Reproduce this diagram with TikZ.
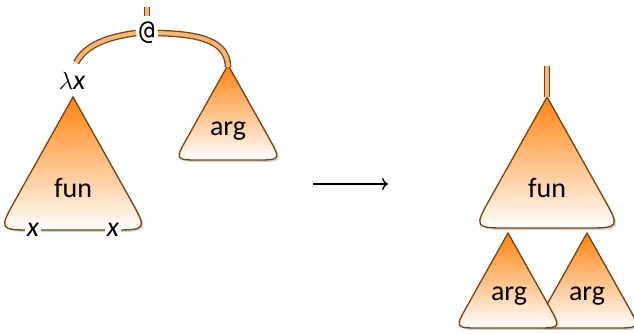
\documentclass[tikz,border=0pt]{standalone}
\usepackage{fontspec}
\setmainfont{Carlito}
\newfontfamily\atfont{DejaVu Sans Mono}
\usetikzlibrary{shadows,arrows.meta,calc}
\definecolor{treeedge}{HTML}{7A420A}
\definecolor{treetop}{HTML}{FF8410}
\definecolor{wirefill}{HTML}{F6B677}
\tikzset{
  treefill/.style={draw=treeedge, line width=1.3pt, top color=treetop, bottom color=white,
    drop shadow={opacity=0.35, shadow xshift=2pt, shadow yshift=-2pt}},
  wire/.style={draw=treeedge, double=wirefill, double distance=4pt, line width=1.3pt},
  lbl/.style={font=\fontsize{28}{30}\selectfont, inner sep=1pt, anchor=base},
  varlbl/.style={lbl, fill=white, inner sep=2pt},
}
% triangle with a sharp apex and rounded base corners:
% apex name, apex x, apex y, height, length cut off at each base corner
\newcommand\treetri[5]{%
  \coordinate (#1) at (#2,#3);
  \coordinate (#1-bl) at ($(#1)+({-0.56*#4},#4)$);
  \coordinate (#1-br) at ($(#1)+({0.56*#4},#4)$);
  \path[treefill] (#1) -- ($(#1-bl)!#5pt!(#1)$)
    .. controls (#1-bl) .. ($(#1-bl)!#5pt!(#1-br)$)
    -- ($(#1-br)!#5pt!(#1-bl)$)
    .. controls (#1-br) .. ($(#1-br)!#5pt!(#1)$) -- cycle;
}
\begin{document}
\begin{tikzpicture}[x=1pt,y=-1pt]
\useasboundingbox (0,0) rectangle (634,333);

% ---- redex: (\x. fun) arg ----
\treetri{funL}{73}{97}{133}{36}
\node[lbl] (funLlbl) at (73,197) {fun};
\node[varlbl] (xa) at (33,236) {\itshape x};
\node[varlbl] (xb) at (113,236) {\itshape x};
\node[lbl] (lam) at (72,89) {$\lambda$\itshape x};

\treetri{argL}{228}{65}{95}{26}
\node[lbl] (argLlbl) at (228,135) {arg};

\node[font=\atfont\fontsize{26}{28}\selectfont, inner sep=3pt] (app) at (147,33) {@};
\coordinate (apptop) at (147,7);
\coordinate (appstub) at (147,16);
\draw[wire] (apptop) -- (appstub);
\draw[wire, shorten <=9pt] (lam.north) to[out=62,in=188] (app.west);
\draw[wire] (app.east) to[out=-2,in=90] ([yshift=-2pt]argL);

% ---- rewrite arrow ----
\coordinate (arrL) at (313,184);
\coordinate (arrR) at (388,184);
\draw[line width=1.3pt, -{To[length=6pt,width=12pt]}] (arrL) -- (arrR);

% ---- result: fun with arg substituted ----
\treetri{argR2}{587}{233}{95}{26}
\node[lbl] (argR2lbl) at (587,300) {arg};
\treetri{argR1}{508}{233}{95}{26}
\node[lbl] (argR1lbl) at (509,300) {arg};

\treetri{funR}{547}{97}{131}{36}
\node[lbl] (funRlbl) at (547,197) {fun};
\coordinate (rtop) at (547,66);
\draw[wire] (rtop) -- (funR);
\end{tikzpicture}
\end{document}
